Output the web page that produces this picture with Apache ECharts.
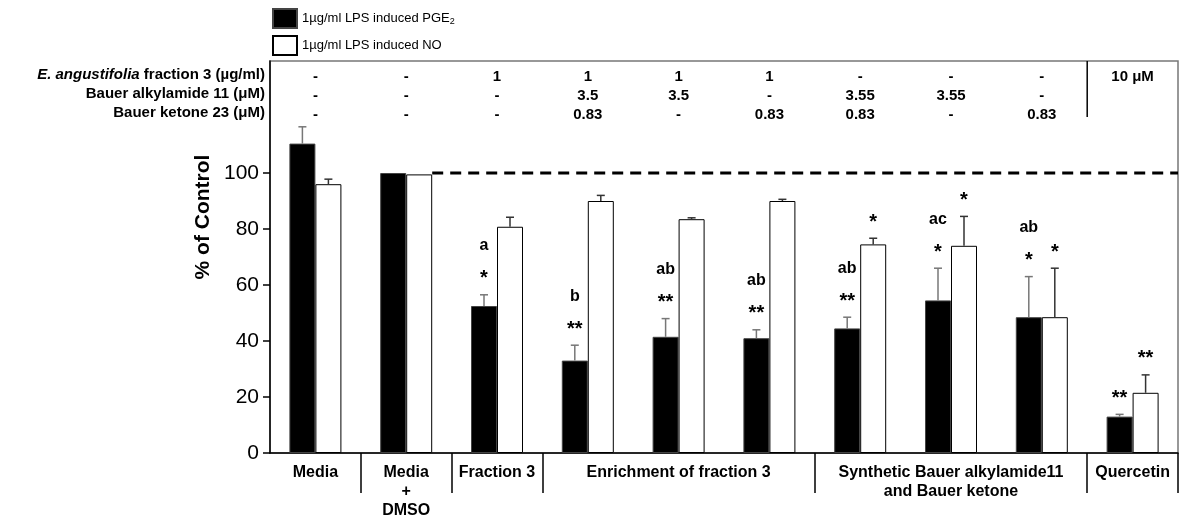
<!DOCTYPE html>
<html>
<head>
<meta charset="utf-8">
<script src="https://cdn.jsdelivr.net/npm/echarts@6/dist/echarts.min.js"></script>
<style>
  html, body { margin: 0; padding: 0; background: #fff; }
  #chart { width: 1190px; height: 523px; }
</style>
</head>
<body>
<div id="chart"></div>
<script>
var categories = ['Media', 'Media + DMSO', 'Fraction 3', 'Enrichment A', 'Enrichment B', 'Enrichment C',
  'Synthetic A', 'Synthetic B', 'Synthetic C', 'Quercetin'];
var axisLabels = ['Media', 'Media\n+\nDMSO', 'Fraction 3', '', 'Enrichment of fraction 3', '', '',
  'Synthetic Bauer alkylamide11\nand Bauer ketone', '', 'Quercetin'];

var pgeValues = [110.5, 100, 52.5, 33, 41.5, 41, 44.5, 54.5, 48.5, 13];
var pgeErrors = [6, 0, 4, 5.5, 6.5, 3, 4, 11.5, 14.5, 0.8];
var noValues = [96, 99.5, 80.8, 90, 83.5, 90, 74.5, 74, 48.5, 21.5];
var noErrors = [1.8, 0, 3.4, 2, 0.5, 0.6, 2.2, 10.5, 17.5, 6.4];

var pgeStars = ['', '', '*', '**', '**', '**', '**', '*', '*', '**'];
var pgeLetters = ['', '', 'a', 'b', 'ab', 'ab', 'ab', 'ac', 'ab', ''];
var noStars = ['', '', '', '', '', '', '*', '*', '*', '**'];
var noLetters = ['', '', '', '', '', '', '', '', '', ''];

var yTicks = [0, 20, 40, 60, 80, 100];

var rowLabels = ['{i|E. angustifolia} fraction 3 (\u00b5g/ml)', 'Bauer alkylamide 11 (\u03bcM)', 'Bauer ketone 23 (\u03bcM)'];
var fractionRow = ['-', '-', '1', '1', '1', '1', '-', '-', '-', '10 \u03bcM'];
var alkylamideRow = ['-', '-', '-', '3.5', '3.5', '-', '3.55', '3.55', '-', ''];
var ketoneRow = ['-', '-', '-', '0.83', '-', '0.83', '0.83', '-', '0.83', ''];

// categories that open a new group under the axis
var groupStarts = [1, 2, 3, 6, 9];

var FONT = 'Arial, "Liberation Sans", sans-serif';
var BAR_W = 26;

var chart = echarts.init(document.getElementById('chart'));

function errorSeries(name, values, errors, stars, letters, side, color) {
  return {
    name: name + ' err',
    type: 'custom',
    z: 5,
    silent: true,
    data: values.map(function (v, i) { return [i, v, errors[i]]; }),
    encode: { x: 0, y: 1 },
    renderItem: function (params, api) {
      var i = api.value(0);
      var top = api.coord([i, api.value(1)]);
      var cap = api.coord([i, api.value(1) + api.value(2)]);
      var x = top[0] + side * BAR_W / 2;
      var kids = [];
      if (api.value(2) > 0) {
        kids.push({ type: 'line', shape: { x1: x, y1: top[1], x2: x, y2: cap[1] },
          style: { stroke: color, lineWidth: 1.5 } });
        kids.push({ type: 'line', shape: { x1: x - 4, y1: cap[1], x2: x + 4, y2: cap[1] },
          style: { stroke: color, lineWidth: 1.5 } });
      }
      var s = stars[params.dataIndex], l = letters[params.dataIndex];
      if (s) {
        kids.push({ type: 'text', x: x, y: cap[1] - 6,
          style: { text: s, align: 'center', verticalAlign: 'bottom', font: 'bold 20px ' + FONT, fill: '#000' } });
      }
      if (l) {
        kids.push({ type: 'text', x: x, y: cap[1] - 49,
          style: { text: l, align: 'center', verticalAlign: 'middle', font: 'bold 16px ' + FONT, fill: '#000' } });
      }
      return { type: 'group', children: kids };
    }
  };
}

var option = {
  animation: false,
  backgroundColor: '#fff',
  textStyle: { fontFamily: FONT },
  grid: {
    left: 270, right: 12, top: 61, bottom: 70,
    show: true, borderColor: '#777', borderWidth: 1.5, backgroundColor: 'transparent'
  },
  legend: {
    orient: 'vertical', left: 272, top: 8, padding: 0,
    itemWidth: 24, itemHeight: 19, itemGap: 6,
    icon: 'rect',
    data: ['pge', 'no'],
    textStyle: {
      fontSize: 13, color: '#000',
      rich: { sub: { fontSize: 9, padding: [7, 0, 0, 0] } }
    },
    formatter: function (n) {
      return n === 'pge' ? '1\u00b5g/ml LPS induced PGE{sub|2}' : '1\u00b5g/ml LPS induced NO';
    }
  },
  xAxis: [{
    type: 'category',
    data: categories,
    axisLine: { lineStyle: { color: '#000', width: 1.5 } },
    axisTick: {
      show: true, length: 40,
      interval: function (idx) { return groupStarts.indexOf(idx) >= 0; },
      lineStyle: { color: '#000', width: 1.5 }
    },
    axisLabel: {
      interval: 0, margin: 10, color: '#000', fontWeight: 'bold', fontSize: 16, lineHeight: 19,
      formatter: function (v, i) { return axisLabels[i]; }
    }
  }, {
    type: 'category',
    data: categories,
    position: 'top',
    axisLine: { show: false },
    axisTick: { show: false },
    axisLabel: {
      inside: true, interval: 0, margin: 6, color: '#000', fontWeight: 'bold', fontSize: 15, lineHeight: 19,
      formatter: function (v, i) { return [fractionRow[i], alkylamideRow[i], ketoneRow[i]].join('\n'); }
    }
  }],
  yAxis: {
    type: 'value', min: 0, max: 140,
    splitLine: { show: false },
    axisLine: { show: true, lineStyle: { color: '#000', width: 1.5 } },
    axisTick: { show: true, length: 7, customValues: yTicks, lineStyle: { color: '#000', width: 1.5 } },
    axisLabel: { customValues: yTicks, fontSize: 21, color: '#000', margin: 11 }
  },
  series: [{
    name: 'pge', type: 'bar', data: pgeValues, barWidth: BAR_W, barGap: '0%',
    itemStyle: { color: '#000', borderColor: '#444', borderWidth: 1 }
  }, {
    name: 'no', type: 'bar', data: noValues, barWidth: BAR_W, barGap: '0%',
    itemStyle: { color: '#fff', borderColor: '#000', borderWidth: 1 }
  },
    errorSeries('pge', pgeValues, pgeErrors, pgeStars, pgeLetters, -1, '#777'),
    errorSeries('no', noValues, noErrors, noStars, noLetters, 1, '#333')
  ],
  graphic: [
    { type: 'text', x: 203, y: 217, rotation: Math.PI / 2,
      style: { text: '% of Control', align: 'center', verticalAlign: 'middle', font: 'bold 21px ' + FONT, fill: '#000' } }
  ].concat(rowLabels.map(function (t, r) {
    return { type: 'text', x: 265, y: 75 + r * 19,
      style: { text: t, align: 'right', verticalAlign: 'middle', font: 'bold 15px ' + FONT, fill: '#000',
        rich: { i: { fontStyle: 'italic', fontWeight: 'bold', fontSize: 15 } } } };
  }))
};
chart.setOption(option);

// dashed 100% reference line (from the Media + DMSO pair to the right edge)
// and the table divider in front of the Quercetin column
var rect = chart.getModel().getComponent('grid').coordinateSystem.getRect();
var y100 = chart.convertToPixel({ yAxisIndex: 0 }, 100);
var xStart = chart.convertToPixel({ xAxisIndex: 0 }, categories[1]) + BAR_W;
var xDiv = (chart.convertToPixel({ xAxisIndex: 0 }, categories[8]) +
  chart.convertToPixel({ xAxisIndex: 0 }, categories[9])) / 2;
chart.setOption({
  graphic: option.graphic.concat([{
    type: 'line', z: 1, silent: true,
    shape: { x1: xStart, y1: y100, x2: rect.x + rect.width, y2: y100 },
    style: { stroke: '#000', lineWidth: 3, lineDash: [11, 7] }
  }, {
    type: 'line', silent: true,
    shape: { x1: xDiv, y1: rect.y, x2: xDiv, y2: rect.y + 56 },
    style: { stroke: '#000', lineWidth: 1.5 }
  }])
});
</script>
</body>
</html>
